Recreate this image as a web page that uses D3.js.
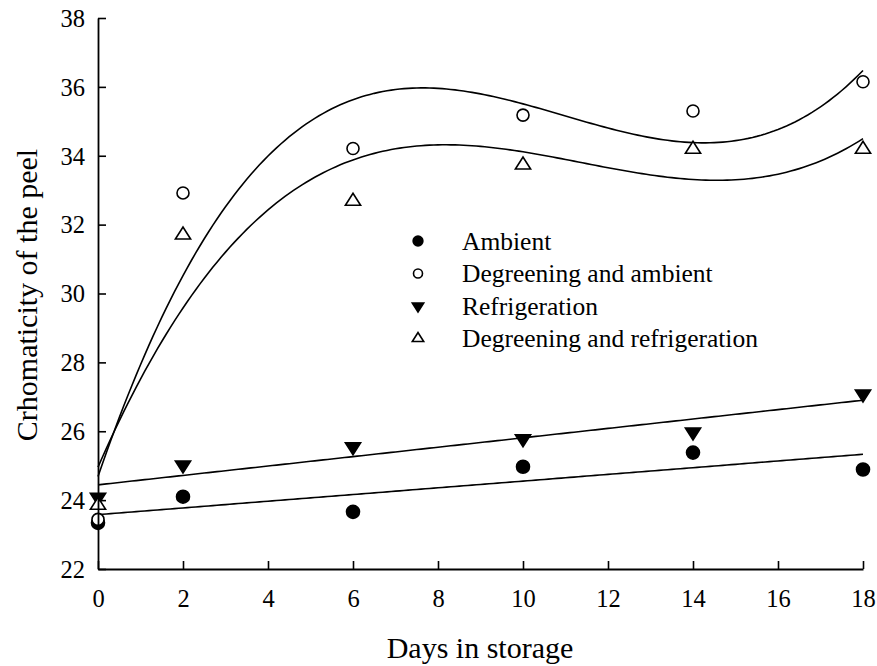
<!DOCTYPE html>
<html><head><meta charset="utf-8">
<script src="https://cdn.jsdelivr.net/npm/d3@7"></script>
<style>body{margin:0;background:#fff}svg{display:block}text{font-family:"Liberation Serif","Times New Roman",serif;fill:#000}</style>
</head><body><svg id="c" width="877" height="666"></svg>
<script>
const days = [0, 2, 6, 10, 14, 18];
const ambient = [23.34, 24.10, 23.66, 24.97, 25.38, 24.89];
const degAmbient = [23.44, 32.92, 34.21, 35.18, 35.30, 36.15];
const refrigeration = [24.08, 25.02, 25.55, 25.78, 25.98, 27.08];
const degRefrig = [23.85, 31.70, 32.68, 33.73, 34.19, 34.19];
const xTicks = [0, 2, 4, 6, 8, 10, 12, 14, 16, 18];
const yTicks = [22, 24, 26, 28, 30, 32, 34, 36, 38];
const legendLabels = ["Ambient", "Degreening and ambient", "Refrigeration", "Degreening and refrigeration"];

const svg = d3.select("#c");
const x = d3.scaleLinear().domain([0, 18]).range([98, 863]);
const y = d3.scaleLinear().domain([22, 38]).range([569, 18]);

// least squares polynomial fit
function polyfit(xs, ys, deg) {
  const n = deg + 1;
  const A = Array.from({length: n}, () => new Array(n + 1).fill(0));
  for (let i = 0; i < n; i++) {
    for (let j = 0; j < n; j++) A[i][j] = d3.sum(xs, v => Math.pow(v, i + j));
    A[i][n] = d3.sum(xs, (v, k) => ys[k] * Math.pow(v, i));
  }
  for (let i = 0; i < n; i++) {
    let p = i;
    for (let r = i + 1; r < n; r++) if (Math.abs(A[r][i]) > Math.abs(A[p][i])) p = r;
    [A[i], A[p]] = [A[p], A[i]];
    for (let r = 0; r < n; r++) {
      if (r === i) continue;
      const f = A[r][i] / A[i][i];
      for (let c = i; c <= n; c++) A[r][c] -= f * A[i][c];
    }
  }
  return A.map((row, i) => row[n] / row[i]);
}
const evalPoly = (c, v) => c.reduce((s, a, i) => s + a * Math.pow(v, i), 0);

const series = [
  {vals: ambient, deg: 1, sym: "circle", fill: "#000", r: 6.5},
  {vals: degAmbient, deg: 3, sym: "circle", fill: "#fff", r: 6},
  {vals: refrigeration, deg: 1, sym: "down", fill: "#000", r: 8},
  {vals: degRefrig, deg: 3, sym: "up", fill: "#fff", r: 8}
];

const g = svg.append("g");
const line = d3.line().x(d => x(d[0])).y(d => y(d[1])).curve(d3.curveLinear);
const samples = d3.range(0, 18.0001, 0.1);
series.forEach(s => {
  const c = polyfit(days, s.vals, s.deg);
  g.append("path").attr("d", line(samples.map(v => [v, evalPoly(c, v)])))
    .attr("fill", "none").attr("stroke", "#000").attr("stroke-width", 1.6);
});

function marker(sel, s, cx, cy, scale) {
  const r = s.r * scale;
  if (s.sym === "circle") {
    sel.append("circle").attr("cx", cx).attr("cy", cy).attr("r", r)
      .attr("fill", s.fill).attr("stroke", "#000").attr("stroke-width", 1.6);
  } else {
    const h = r * 1.5, w = r * 0.95;
    const pts = s.sym === "down"
      ? [[cx - w, cy - h/3], [cx + w, cy - h/3], [cx, cy + 2*h/3]]
      : [[cx - w, cy + h/3], [cx + w, cy + h/3], [cx, cy - 2*h/3]];
    sel.append("path").attr("d", "M" + pts.map(p => p.join(",")).join("L") + "Z")
      .attr("fill", s.fill).attr("stroke", "#000").attr("stroke-width", 1.6).attr("stroke-linejoin", "miter");
  }
}
[0, 2, 3, 1].forEach(i => {
  const s = series[i];
  days.forEach((d, k) => marker(g, s, x(d), y(s.vals[k]), 1));
});

// axes
const xAxis = d3.axisBottom(x).tickValues(xTicks).tickSizeInner(-8).tickSizeOuter(0).tickPadding(14).tickFormat(d3.format("d"));
const yAxis = d3.axisLeft(y).tickValues(yTicks).tickSizeInner(-8).tickSizeOuter(0).tickPadding(14).tickFormat(d3.format("d"));
const gx = svg.append("g").attr("transform", "translate(0,569)").call(xAxis);
const gy = svg.append("g").attr("transform", "translate(98,0)").call(yAxis);
[gx, gy].forEach(a => {
  a.select(".domain").attr("stroke", "#000").attr("stroke-width", 1.8);
  a.selectAll(".tick line").attr("stroke", "#000").attr("stroke-width", 1.6);
  a.selectAll(".tick text").attr("font-size", 24.5).attr("font-family", "Liberation Serif").attr("fill", "#000");
});
gx.selectAll(".tick text").attr("dy", null).attr("y", 38);
gy.selectAll(".tick text").attr("x", -13).attr("dy", "0.34em");

svg.append("text").attr("x", 480).attr("y", 658).attr("text-anchor", "middle").attr("font-size", 30).text("Days in storage");
svg.append("text").attr("transform", "translate(37,295) rotate(-90)").attr("text-anchor", "middle").attr("font-size", 30).text("Crhomaticity of the peel");

// legend
const lg = svg.append("g");
legendLabels.forEach((t, i) => {
  const yy = 241 + i * 32.5;
  marker(lg, series[i], 418, yy, 0.75);
  lg.append("text").attr("x", 462).attr("y", yy).attr("dy", "0.35em").attr("font-size", 25.5).text(t);
});
</script></body></html>
